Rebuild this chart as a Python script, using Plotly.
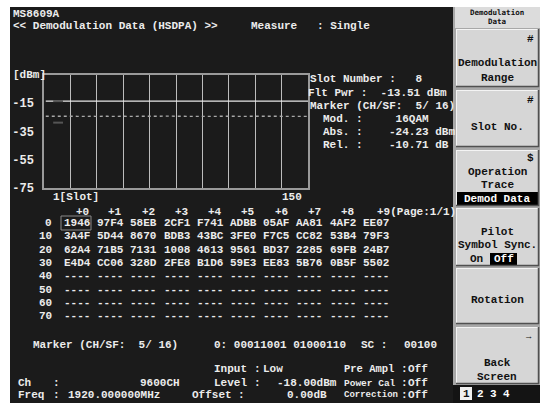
import plotly.graph_objects as go

W, H = 543, 403
FIG_H = 411  # page viewport is taller than the picture; the picture is squeezed to 403

# ---------------- data ----------------
slots = list(range(1, 151))
total_pwr = [
    -13.52, -13.50, -13.53, -13.49, -13.51, -13.52, -13.50, -13.51, -13.53, -13.50, -13.52, -13.49, -13.51, -13.53, -13.50,
    -13.51, -13.49, -13.52, -13.50, -13.53, -13.51, -13.50, -13.52, -13.49, -13.51, -13.50, -13.52, -13.53, -13.50, -13.51,
    -13.50, -13.52, -13.51, -13.49, -13.52, -13.50, -13.53, -13.51, -13.50, -13.52, -13.49, -13.51, -13.50, -13.52, -13.51,
    -13.53, -13.50, -13.51, -13.52, -13.49, -13.51, -13.52, -13.50, -13.51, -13.53, -13.50, -13.52, -13.51, -13.49, -13.50,
    -13.51, -13.52, -13.50, -13.53, -13.51, -13.49, -13.50, -13.52, -13.51, -13.50, -13.53, -13.51, -13.52, -13.50, -13.49,
    -13.50, -13.51, -13.53, -13.50, -13.52, -13.51, -13.49, -13.51, -13.52, -13.50, -13.51, -13.53, -13.50, -13.52, -13.51,
    -13.52, -13.50, -13.49, -13.51, -13.53, -13.50, -13.52, -13.51, -13.50, -13.49, -13.52, -13.51, -13.53, -13.50, -13.51,
    -13.49, -13.51, -13.52, -13.50, -13.51, -13.53, -13.50, -13.52, -13.51, -13.49, -13.50, -13.52, -13.51, -13.53, -13.50,
    -13.51, -13.53, -13.50, -13.52, -13.49, -13.51, -13.50, -13.52, -13.53, -13.51, -13.50, -13.49, -13.52, -13.51, -13.50,
    -13.50, -13.52, -13.51, -13.49, -13.53, -13.50, -13.51, -13.52, -13.50, -13.51, -13.53, -13.49, -13.51, -13.52, -13.50,
]
code_pwr = [
    -24.21, -24.18, -24.26, -24.22, -24.19, -24.24, -24.20, -24.23, -24.17, -24.25, -24.21, -24.19, -24.27, -24.22, -24.20,
    -24.24, -24.18, -24.22, -24.26, -24.20, -24.19, -24.23, -24.21, -24.25, -24.18, -24.22, -24.24, -24.20, -24.26, -24.19,
    -24.22, -24.25, -24.19, -24.21, -24.23, -24.18, -24.26, -24.20, -24.22, -24.24, -24.19, -24.21, -24.25, -24.18, -24.23,
    -24.20, -24.24, -24.22, -24.17, -24.25, -24.21, -24.19, -24.23, -24.26, -24.20, -24.22, -24.18, -24.24, -24.21, -24.25,
    -24.19, -24.23, -24.20, -24.26, -24.22, -24.18, -24.24, -24.21, -24.19, -24.25, -24.23, -24.20, -24.17, -24.22, -24.24,
    -24.26, -24.21, -24.18, -24.23, -24.20, -24.25, -24.22, -24.19, -24.24, -24.21, -24.18, -24.26, -24.23, -24.20, -24.22,
    -24.18, -24.22, -24.25, -24.20, -24.24, -24.19, -24.21, -24.26, -24.23, -24.18, -24.22, -24.20, -24.25, -24.24, -24.19,
    -24.23, -24.20, -24.24, -24.21, -24.17, -24.22, -24.26, -24.19, -24.20, -24.23, -24.25, -24.21, -24.18, -24.22, -24.24,
    -24.21, -24.25, -24.19, -24.22, -24.24, -24.20, -24.18, -24.23, -24.26, -24.21, -24.19, -24.24, -24.22, -24.20, -24.25,
    -24.22, -24.19, -24.23, -24.25, -24.20, -24.24, -24.21, -24.18, -24.22, -24.26, -24.20, -24.23, -24.19, -24.21, -24.24,
]
marker_slot = 8
y_ticks = [-75, -55, -35, -15]
col_heads = ["+0", "+1", "+2", "+3", "+4", "+5", "+6", "+7", "+8"]
row_labels = ["0", "10", "20", "30", "40", "50", "60", "70"]
table_rows = [
    ["1946", "97F4", "58EB", "2CF1", "F741", "ADBB", "05AF", "AA81", "4AF2", "EE07"],
    ["3A4F", "5D44", "8670", "BDB3", "43BC", "3FE0", "F7C5", "CC82", "53B4", "79F3"],
    ["62A4", "71B5", "7131", "1008", "4613", "9561", "BD37", "2285", "69FB", "24B7"],
    ["E4D4", "CC06", "328D", "2FE8", "B1D6", "59E3", "EE83", "5B76", "0B5F", "5502"],
    ["----"] * 10,
    ["----"] * 10,
    ["----"] * 10,
    ["----"] * 10,
]

# ---------------- helpers ----------------
FONT = "Liberation Mono"
TXT = "#ececec"
shapes = []
ann = []


def px(x):
    return x / W


def py(y):
    return 1 - y / H


def rect(x0, y0, x1, y1, fill=None, line=None, lw=1):
    shapes.append(dict(type="rect", xref="paper", yref="paper",
                       x0=px(x0), x1=px(x1), y0=py(y1), y1=py(y0),
                       fillcolor=fill if fill else "rgba(0,0,0,0)",
                       line=dict(color=line if line else "rgba(0,0,0,0)", width=lw if line else 0),
                       layer="below" if fill and not line else "above"))


def hline(x0, x1, y, color, w=1):
    shapes.append(dict(type="line", xref="paper", yref="paper", x0=px(x0), x1=px(x1),
                       y0=py(y), y1=py(y), line=dict(color=color, width=w), layer="above"))


def vline(x, y0, y1, color, w=1):
    shapes.append(dict(type="line", xref="paper", yref="paper", x0=px(x), x1=px(x),
                       y0=py(y0), y1=py(y1), line=dict(color=color, width=w), layer="above"))


def txt(x, y, s, anchor="left", color=TXT, size=11, bold=True, family=FONT, bg=None):
    s = s.replace(" ", "\u00a0")
    if bold:
        s = "<b>" + s + "</b>"
    a = dict(x=px(x), y=py(y), xref="paper", yref="paper", text=s, showarrow=False,
             xanchor=anchor, yanchor="middle", borderpad=0,
             font=dict(family=family, size=size, color=color))
    if bg:
        a["bgcolor"] = bg
    ann.append(a)


# ---------------- background ----------------
rect(10, 7, 453, 403, fill="#1b1b1b")
rect(453, 7, 540, 403, fill="#a8a8a8")
rect(455, 7, 540, 28, fill="#dcdcdc")

# ---------------- figure / graph ----------------
fig = go.Figure()
fig.add_trace(go.Scatter(x=slots, y=total_pwr, mode="lines",
                         line=dict(color="#e8e8e8", width=1.2), hoverinfo="skip"))
fig.add_trace(go.Scatter(x=slots, y=code_pwr, mode="lines",
                         line=dict(color="#a8a8a8", width=1.3, dash="dot"), hoverinfo="skip"))
fig.add_trace(go.Scatter(x=[marker_slot], y=[code_pwr[marker_slot - 1] - 4.5], mode="markers",
                         marker=dict(symbol="line-ew", size=7, line=dict(color="#555555", width=2)),
                         hoverinfo="skip"))
fig.add_trace(go.Scatter(x=[marker_slot], y=[total_pwr[marker_slot - 1]], mode="markers",
                         marker=dict(symbol="line-ew", size=7, line=dict(color="#555555", width=2)),
                         hoverinfo="skip"))

gx0, gx1, gy0, gy1 = 44, 308, 75, 188

# labels near graph
txt(12, 75, "[dBm]")
txt(52, 197, "1[Slot]")
txt(303, 197, "150", anchor="right")

# info block right of graph
txt(309, 79, "Slot Number :   8")
txt(307, 93, "Flt Pwr :  -13.51 dBm")
txt(309, 106, "Marker (CH/SF:  5/ 16)")
txt(322, 119, "Mod. :     16QAM")
txt(322, 132, "Abs. :    -24.23 dBm")
txt(322, 145, "Rel. :    -10.71 dB")

# header
txt(12, 14, "MS8609A")
txt(12, 26, "<< Demodulation Data (HSDPA) >>")
txt(250, 26, "Measure")
txt(316, 26, ": Single")

# table
col_x0 = 63
col_step = 33.2
for k, h in enumerate(col_heads):
    txt(col_x0 + col_step * k + 27, 212, h, anchor="right")
txt(col_x0 + col_step * 9 + 27 - 13.2, 212, "+9(Page:1/1)")
for i, (lab, row) in enumerate(zip(row_labels, table_rows)):
    yy = 223 + 13.3 * i
    txt(53, yy, lab, anchor="right")
    for k, cell in enumerate(row):
        txt(col_x0 + col_step * k, yy, cell)
rect(61, 216, 91, 230, line="#8a8a8a", lw=1)

# marker line
txt(32, 345, "Marker (CH/SF:  5/ 16)")
txt(213, 345, "0: 00011001 01000110")
txt(360, 345, "SC :")
txt(403, 345, "00100")

# bottom status
txt(213, 369, "Input")
txt(253, 369, ":")
txt(262, 369, "Low")
txt(343, 369, "Pre Ampl", size=10.5)
txt(400, 369, ":")
txt(407, 369, "Off")

txt(17, 383, "Ch")
txt(52, 383, ":")
txt(181, 383, "9600CH", anchor="right")
txt(213, 383, "Level")
txt(253, 383, ":")
txt(338, 383, "-18.00dBm", anchor="right")
txt(343, 383, "Power Cal", size=9.5)
txt(400, 383, ":")
txt(407, 383, "Off")

txt(17, 395, "Freq")
txt(52, 395, ":")
txt(67, 395, "1920.000000MHz")
txt(191, 395, "Offset")
txt(237, 395, ":")
txt(328, 395, "0.00dB", anchor="right")
txt(343, 395, "Correction", size=9)
txt(400, 395, ":")
txt(407, 395, "Off")

# ---------------- soft key panel ----------------
BTN = "#d6d6d6"
DARK = "#111111"
buttons = [(29, 87), (90, 147), (150, 206), (208, 266), (268, 324), (327, 384)]
for (t, b) in buttons:
    rect(456, t, 539, b, fill=BTN)
    hline(456, 539, t + 0.5, "#f4f4f4", 1)
    vline(456.5, t, b, "#f4f4f4", 1)
    hline(456, 539, b - 0.5, "#505050", 1.5)
    vline(538.5, t, b, "#505050", 1.5)

SK = dict(color=DARK, size=11, bold=True)
txt(497, 13, "Demodulation", anchor="center", color=DARK, size=7.5, bold=True, family="DejaVu Sans Mono")
txt(497, 21, "Data", anchor="center", color=DARK, size=7.5, bold=True, family="DejaVu Sans Mono")

txt(530, 39, "#", anchor="center", **SK)
txt(497, 63, "Demodulation", anchor="center", **SK)
txt(497, 78, "Range", anchor="center", **SK)

txt(530, 100, "#", anchor="center", **SK)
txt(497, 127, "Slot No.", anchor="center", **SK)

txt(530, 158, "$", anchor="center", **SK)
txt(497, 172, "Operation", anchor="center", **SK)
txt(497, 185, "Trace", anchor="center", **SK)
rect(457, 192, 538, 205, fill="#000000")
txt(497, 198.5, "Demod Data", anchor="center", color="#ffffff", size=11, bold=True)

txt(497, 232, "Pilot", anchor="center", **SK)
txt(497, 245, "Symbol Sync.", anchor="center", **SK)
txt(476, 259, "On", anchor="center", **SK)
rect(490, 253, 517, 265, fill="#000000")
txt(503.5, 259, "Off", anchor="center", color="#ffffff", size=11, bold=True)

txt(497, 300, "Rotation", anchor="center", **SK)

txt(529, 337, "\u2192", anchor="center", color=DARK, size=9, bold=False)
txt(497, 363, "Back", anchor="center", **SK)
txt(497, 377, "Screen", anchor="center", **SK)

rect(453, 385, 540, 403, fill="#141414")
rect(460, 387, 472, 400, fill="#f0f0f0")
txt(466, 393.5, "1", anchor="center", color=DARK, size=11, bold=True)
txt(480, 393.5, "2", anchor="center", color="#ffffff", size=11, bold=True)
txt(493, 393.5, "3", anchor="center", color="#ffffff", size=11, bold=True)
txt(506, 393.5, "4", anchor="center", color="#ffffff", size=11, bold=True)

fig.update_layout(
    width=W, height=FIG_H,
    margin=dict(l=0, r=0, t=0, b=0),
    paper_bgcolor="#ffffff",
    plot_bgcolor="#000000",
    showlegend=False,
    shapes=shapes,
    annotations=ann,
    xaxis=dict(domain=[px(gx0), px(gx1)], range=[0, 150], dtick=15, tick0=0,
               showgrid=True, gridcolor="#bdbdbd", gridwidth=1,
               showticklabels=False, ticks="", zeroline=False,
               showline=True, mirror=True, linecolor="#9a9a9a", linewidth=1.5),
    yaxis=dict(domain=[py(gy1), py(gy0)], range=[-75, 5],
               tickvals=y_ticks, ticktext=["<b>%d</b>" % v for v in y_ticks],
               showgrid=False, zeroline=False, ticks="",
               tickfont=dict(family=FONT, size=12, color=TXT), ticklabelstandoff=6,
               showline=True, mirror=True, linecolor="#9a9a9a", linewidth=1.5),
)

fig.write_html("out.html", config={"displayModeBar": False},
               post_script="document.body.style.margin='0';document.body.style.overflow='hidden';")
